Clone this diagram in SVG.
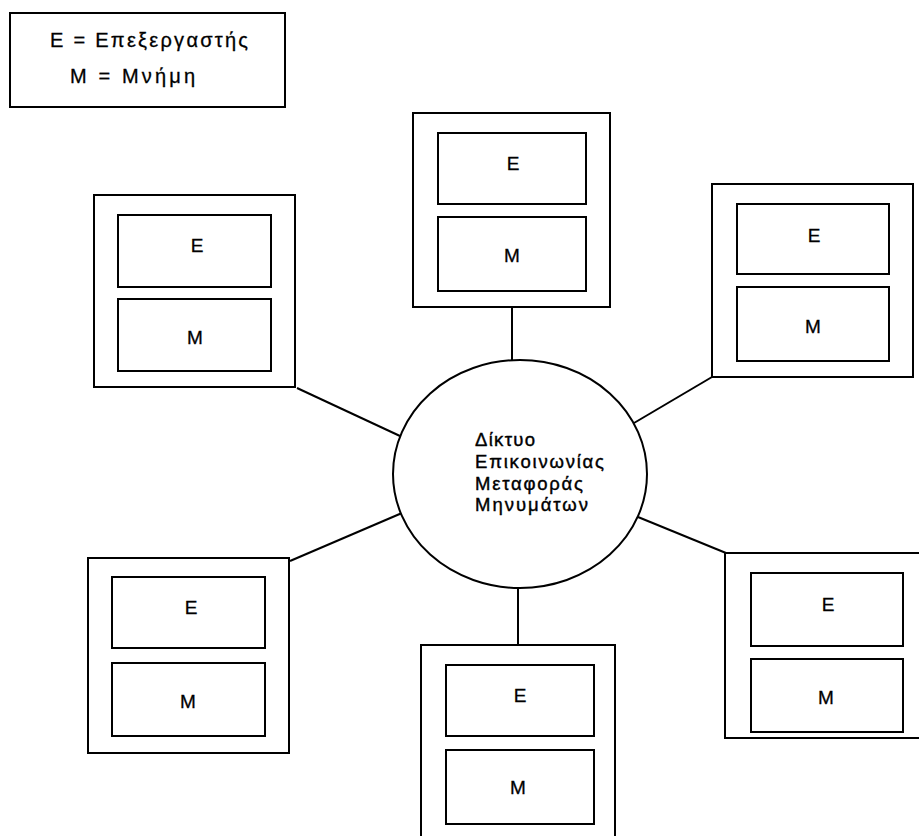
<svg xmlns="http://www.w3.org/2000/svg" width="919" height="836" viewBox="0 0 919 836">
  <style>
    .box { fill: #ffffff; stroke: #000000; stroke-width: 2; }
    .link { stroke: #000000; stroke-width: 2; fill: none; }
    .lbl { font-family: "Liberation Sans", Arial, sans-serif; font-size: 19px; fill: #000000; stroke: #000000; stroke-width: 0.3; text-anchor: middle; }
    .net { font-family: "Liberation Sans", Arial, sans-serif; font-size: 18.5px; fill: #000000; stroke: #000000; stroke-width: 0.4; }
    .key { font-family: "Liberation Sans", Arial, sans-serif; font-size: 20px; fill: #000000; stroke: #000000; stroke-width: 0.3; }
  </style>
  <rect width="919" height="836" fill="#ffffff"/>

  <!-- legend -->
  <g id="legend">
    <rect class="box" x="10" y="13" width="275" height="94"/>
    <text class="key" x="50" y="47" textLength="198" lengthAdjust="spacing">E = Επεξεργαστής</text>
    <text class="key" x="70" y="83" textLength="125" lengthAdjust="spacing">M = Μνήμη</text>
  </g>

  <!-- connectors between the network and each processor node -->
  <g id="connectors">
    <line class="link" x1="512" y1="307" x2="512" y2="361"/>
    <line class="link" x1="297" y1="388" x2="400" y2="436"/>
    <line class="link" x1="634" y1="423" x2="712" y2="377"/>
    <line class="link" x1="290" y1="561" x2="402" y2="513"/>
    <line class="link" x1="638" y1="517" x2="726" y2="553"/>
    <line class="link" x1="518" y1="588" x2="518" y2="645"/>
  </g>

  <!-- message-passing network -->
  <g id="network">
    <ellipse class="box" cx="520" cy="474" rx="127" ry="114"/>
    <text class="net" x="475" y="446" textLength="60" lengthAdjust="spacing">Δίκτυο</text>
    <text class="net" x="475" y="468" textLength="129" lengthAdjust="spacing">Επικοινωνίας</text>
    <text class="net" x="475" y="490" textLength="108" lengthAdjust="spacing">Μεταφοράς</text>
    <text class="net" x="475" y="511" textLength="113" lengthAdjust="spacing">Μηνυμάτων</text>
  </g>

  <!-- processor nodes: E = processor, M = memory -->
  <g id="node-top">
    <rect class="box" x="413" y="113" width="197" height="194"/>
    <rect class="box" x="438" y="133" width="148" height="71"/>
    <rect class="box" x="438" y="217" width="148" height="74"/>
    <text class="lbl" x="513" y="170">E</text>
    <text class="lbl" x="512" y="262">M</text>
  </g>

  <g id="node-top-left">
    <rect class="box" x="94" y="195" width="201" height="192"/>
    <rect class="box" x="118" y="215" width="153" height="72"/>
    <rect class="box" x="118" y="299" width="153" height="72"/>
    <text class="lbl" x="197" y="252">E</text>
    <text class="lbl" x="195" y="344">M</text>
  </g>

  <g id="node-top-right">
    <rect class="box" x="712" y="184" width="201" height="193"/>
    <rect class="box" x="737" y="204" width="152" height="70"/>
    <rect class="box" x="737" y="287" width="152" height="74"/>
    <text class="lbl" x="814" y="242">E</text>
    <text class="lbl" x="813" y="333">M</text>
  </g>

  <g id="node-bottom-left">
    <rect class="box" x="88" y="558" width="201" height="195"/>
    <rect class="box" x="112" y="577" width="153" height="71"/>
    <rect class="box" x="112" y="663" width="153" height="73"/>
    <text class="lbl" x="191" y="614">E</text>
    <text class="lbl" x="188" y="708">M</text>
  </g>

  <g id="node-bottom">
    <rect class="box" x="421" y="645" width="194" height="210"/>
    <rect class="box" x="446" y="665" width="148" height="71"/>
    <rect class="box" x="446" y="750" width="148" height="74"/>
    <text class="lbl" x="520" y="702">E</text>
    <text class="lbl" x="518" y="794">M</text>
  </g>

  <g id="node-bottom-right">
    <rect class="box" x="725" y="553" width="202" height="185"/>
    <rect class="box" x="751" y="573" width="152" height="73"/>
    <rect class="box" x="751" y="659" width="152" height="73"/>
    <text class="lbl" x="828" y="611">E</text>
    <text class="lbl" x="826" y="704">M</text>
  </g>
</svg>
